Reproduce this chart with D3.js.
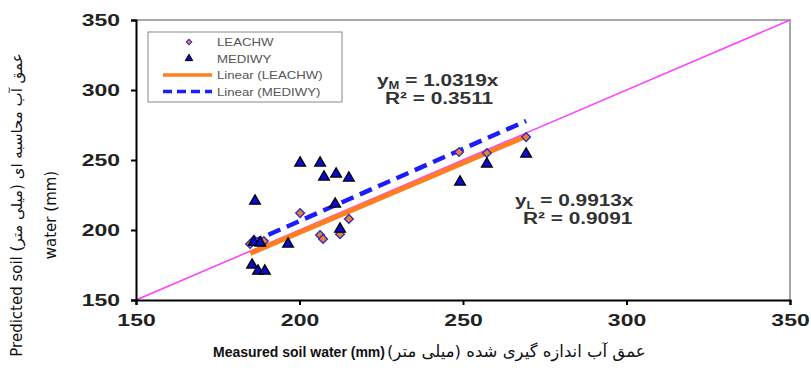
<!DOCTYPE html>
<html>
<head>
<meta charset="utf-8">
<script src="https://cdn.jsdelivr.net/npm/d3@7"></script>
<style>
  body { margin: 0; background: #fff; }
  svg { display: block; }
</style>
</head>
<body>
<div id="container"></div>
<script>
const w = 811;
const h = 376;

// LEACHW points (measured, predicted)
const leachX = [184.9, 186.1, 189.1, 200.2, 206.3, 207.2, 212.4, 215.1, 248.8, 257.3, 269.3];
const leachY = [190.0, 192.9, 192.1, 212.1, 196.4, 193.6, 197.0, 207.9, 255.7, 255.0, 266.4];

// MEDIWY points
const mediX = [186.4, 185.5, 187.3, 189.4, 186.0, 188.0, 196.5, 200.2, 206.3, 207.5, 211.2, 215.1, 212.4, 210.9, 249.1, 257.3, 269.3];
const mediY = [221.4, 175.7, 171.4, 171.4, 192.0, 191.5, 190.7, 248.6, 248.6, 238.6, 240.7, 237.9, 201.4, 219.3, 235.0, 247.9, 255.0];

const slopes = { LEACHW: 0.9913, MEDIWY: 1.0319 };
const ticks = [150, 200, 250, 300, 350];

const x = d3.scaleLinear().domain([150, 350]).range([136, 790]);
const y = d3.scaleLinear().domain([150, 350]).range([300, 20]);

const svg = d3.select("#container").append("svg")
  .attr("width", w).attr("height", h);

// the source picture is stretched sideways, so widen text to match
function stretch(sel, k) {
  sel.each(function () {
    const len = this.getComputedTextLength();
    d3.select(this).attr("textLength", len * k).attr("lengthAdjust", "spacingAndGlyphs");
  });
}

// frame (top/right in grey)
svg.append("path")
  .attr("d", `M${x(150)},${y(350)}H${x(350)}V${y(150)}`)
  .attr("fill", "none").attr("stroke", "#a8a8a8").attr("stroke-width", 2);

// 1:1 line
svg.append("line")
  .attr("x1", x(150)).attr("y1", y(150))
  .attr("x2", x(350)).attr("y2", y(350))
  .attr("stroke", "#ff3cff").attr("stroke-width", 1.5);

// fit lines
const xmin = d3.min(leachX.concat(mediX));
const xmax = d3.max(leachX.concat(mediX));
svg.append("line")
  .attr("x1", x(xmin)).attr("y1", y(xmin * slopes.LEACHW))
  .attr("x2", x(xmax)).attr("y2", y(xmax * slopes.LEACHW))
  .attr("stroke", "#ff7f1e").attr("stroke-width", 5);
svg.append("line")
  .attr("x1", x(xmin)).attr("y1", y(xmin * slopes.MEDIWY))
  .attr("x2", x(xmax)).attr("y2", y(xmax * slopes.MEDIWY))
  .attr("stroke", "#1c1cff").attr("stroke-width", 4.5)
  .attr("stroke-dasharray", "13,7");

const tri = d3.symbol().type(d3.symbolTriangle).size(50);
const dia = d3.symbol().type(d3.symbolSquare).size(38);

svg.append("g").selectAll("path")
  .data(d3.zip(leachX, leachY))
  .join("path")
  .attr("d", dia)
  .attr("transform", (d) => `translate(${x(d[0])},${y(d[1])}) rotate(45)`)
  .attr("fill", "#f08030").attr("stroke", "#3030c0").attr("stroke-width", 1.4);

svg.append("g").selectAll("path")
  .data(d3.zip(mediX, mediY))
  .join("path")
  .attr("d", tri)
  .attr("transform", (d) => `translate(${x(d[0])},${y(d[1]) + 1})`)
  .attr("fill", "#0a0ad0").attr("stroke", "#000").attr("stroke-width", 1.3);

// axes
const xAxis = svg.append("g")
  .attr("transform", `translate(0,${y(150)})`)
  .call(d3.axisBottom(x).tickValues(ticks).tickSize(5).tickPadding(9));
const yAxis = svg.append("g")
  .attr("transform", `translate(${x(150)},0)`)
  .call(d3.axisLeft(y).tickValues(ticks).tickSize(5).tickPadding(11));
[xAxis, yAxis].forEach((g) => {
  g.select(".domain").attr("stroke", "#000").attr("stroke-width", 2);
  g.selectAll(".tick line").attr("stroke", "#000").attr("stroke-width", 2);
  g.selectAll(".tick text")
    .attr("fill", "#222")
    .style("font", "bold 17px 'Liberation Sans', Arial, sans-serif")
    .call(stretch, 1.35);
});

// legend
const lg = svg.append("g");
lg.append("rect")
  .attr("x", 148).attr("y", 32).attr("width", 194).attr("height", 70)
  .attr("fill", "#fff").attr("stroke", "#888").attr("stroke-width", 1);
const rows = [
  { label: "LEACHW", kind: "dia" },
  { label: "MEDIWY", kind: "tri" },
  { label: "Linear (LEACHW)", kind: "lineL" },
  { label: "Linear (MEDIWY)", kind: "lineM" }
];
rows.forEach((r, i) => {
  const ry = 42 + i * 16.5;
  if (r.kind === "dia") {
    lg.append("path").attr("d", d3.symbol().type(d3.symbolSquare).size(16))
      .attr("transform", `translate(189,${ry}) rotate(45)`)
      .attr("fill", "#f08030").attr("stroke", "#3030c0").attr("stroke-width", 1);
  } else if (r.kind === "tri") {
    lg.append("path").attr("d", d3.symbol().type(d3.symbolTriangle).size(24))
      .attr("transform", `translate(189,${ry})`)
      .attr("fill", "#0a0ad0").attr("stroke", "#000").attr("stroke-width", 1);
  } else if (r.kind === "lineL") {
    lg.append("line").attr("x1", 163).attr("x2", 212).attr("y1", ry).attr("y2", ry)
      .attr("stroke", "#ff7f1e").attr("stroke-width", 3.5);
  } else {
    lg.append("line").attr("x1", 163).attr("x2", 212).attr("y1", ry).attr("y2", ry)
      .attr("stroke", "#1c1cff").attr("stroke-width", 3.5).attr("stroke-dasharray", "9,5");
  }
  lg.append("text").attr("x", 217).attr("y", ry + 4)
    .attr("fill", "#555")
    .style("font", "11px 'Liberation Sans', Arial, sans-serif")
    .text(r.label)
    .call(stretch, 1.2);
});

// equations
const eqFont = "bold 16px 'Liberation Sans', Arial, sans-serif";
function equation(x0, yb, sub, slope, r2) {
  const t = svg.append("text").attr("x", x0).attr("y", yb)
    .attr("fill", "#333").style("font", eqFont);
  t.append("tspan").text("y");
  t.append("tspan").attr("dy", 3).style("font-size", "10px").text(sub);
  t.append("tspan").attr("dy", -3).text(" = " + slope + "x");
  stretch(t, 1.3);
  const r = svg.append("text").attr("x", x0 + 8).attr("y", yb + 18)
    .attr("fill", "#333").style("font", eqFont)
    .text("R\u00b2 = " + r2);
  stretch(r, 1.3);
}
equation(377, 86, "M", "1.0319", "0.3511");
equation(515, 206, "L", "0.9913", "0.9091");

// x axis title
const xt1 = svg.append("text").attr("x", 213).attr("y", 357)
  .attr("fill", "#111")
  .style("font", "bold 14px 'Liberation Sans Narrow', 'Liberation Sans', Arial, sans-serif")
  .text("Measured soil water (mm)");
const xt1w = xt1.node().getComputedTextLength();
const xt2 = svg.append("text").attr("y", 357)
  .attr("fill", "#111")
  .attr("direction", "rtl")
  .style("font", "16.5px 'DejaVu Sans', sans-serif")
  .text("عمق آب اندازه گیری شده (میلی متر)");
const xt2w = xt2.node().getComputedTextLength();
// in rtl the anchor is the right-hand end
xt2.attr("x", 215 + xt1w + xt2w);

// y axis title
svg.append("text")
  .attr("transform", "translate(22,205) rotate(-90)")
  .attr("text-anchor", "middle").attr("fill", "#111")
  .style("font", "15px 'Liberation Sans Narrow', 'DejaVu Sans', sans-serif")
  .text("Predicted soil عمق آب محاسبه ای (میلی متر)\u200F");
svg.append("text")
  .attr("transform", "translate(56,215) rotate(-90)")
  .attr("text-anchor", "middle").attr("fill", "#111")
  .style("font", "15px 'Liberation Sans Narrow', 'DejaVu Sans', sans-serif")
  .text("water (mm)");
</script>
</body>
</html>
